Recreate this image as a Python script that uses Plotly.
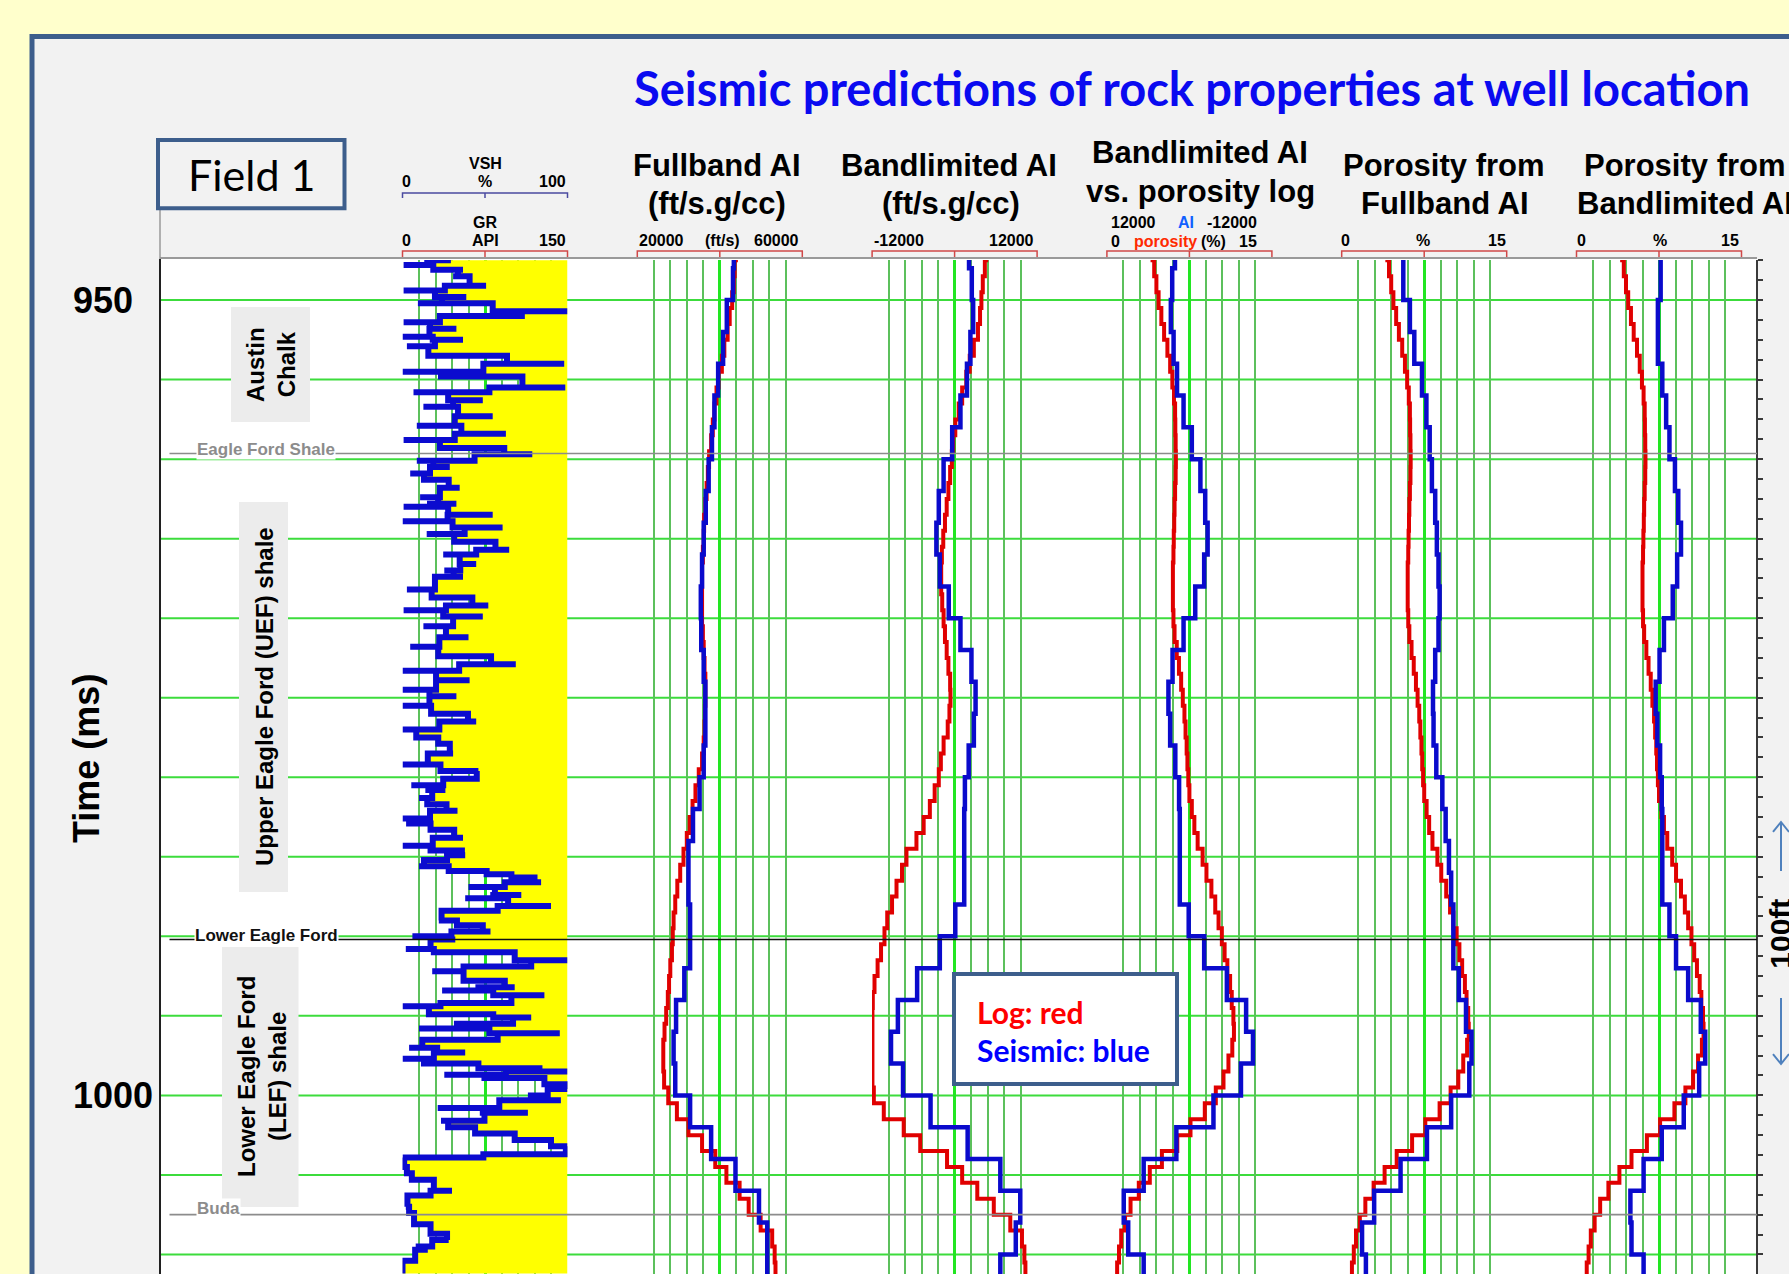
import plotly.graph_objects as go

W, H = 1789, 1274

# ---------------- data ----------------
# well-log samples every 1 ms (two-way time)
log_time_ms = list(range(947, 1013))

fullband_ai_log = [
    43900, 43600, 43400, 43000, 42400, 41900, 41100, 40500, 39700, 39200,
    38700, 38300, 37900, 37400, 37100, 36800, 36500, 36200, 36100, 35900,
    35700, 35700, 35700, 35700, 35900, 36100, 36300, 36500, 36500, 36400,
    36300, 36100, 35700, 34900, 34100, 33400, 32700, 32000, 31200, 30400,
    29700, 29200, 28800, 28600, 28400, 28000, 27700, 27400, 27000, 26600,
    26300, 26300, 26500, 27500, 29600, 32400, 35700, 38900, 41600, 44800,
    47000, 49900, 52700, 53300, 53500, 53800]

bandlimited_ai_log = [
    4600, 4400, 4100, 3900, 3700, 3400, 2800, 2200, 1700, 1100,
    600, 100, -200, -400, -650, -900, -1150, -1400, -1650, -1850,
    -1950, -1950, -1800, -1600, -1400, -1150, -900, -650, -600, -750,
    -1000, -1600, -2000, -2300, -2900, -3600, -4500, -5550, -7000, -7650,
    -8450, -9100, -9800, -10200, -10700, -11200, -11650, -11900, -11950, -11950,
    -11950, -11950, -11950, -11750, -10300, -7400, -5000, -1100, 1100, 3300,
    5700, 8100, 9800, 10150, 10300, 10450]

porosity_log = [
    4.15, 4.3, 4.5, 4.7, 4.95, 5.2, 5.5, 5.75, 5.95, 6.1,
    6.2, 6.22, 6.25, 6.27, 6.25, 6.2, 6.15, 6.12, 6.08, 6.05,
    6.0, 6.0, 6.0, 6.05, 6.15, 6.35, 6.55, 6.75, 6.9, 7.05,
    7.15, 7.25, 7.32, 7.4, 7.5, 7.72, 7.95, 8.25, 8.7, 9.05,
    9.5, 9.85, 10.15, 10.45, 10.7, 10.95, 11.2, 11.35, 11.5, 11.55,
    11.4, 11.05, 10.6, 9.9, 8.9, 7.6, 6.4, 5.0, 3.9, 2.9,
    2.15, 1.65, 1.3, 1.1, 0.93, 0.85]

# seismic predictions, 2 ms blocks (block top times) and base of last block
seis_block_top_ms = list(range(946, 1011, 2))
seis_base_ms = 1012

fullband_ai_seismic = [
    43400, 43200, 41700, 40800, 39600, 38700, 38100, 37300, 36600, 36100,
    35700, 35400, 35500, 36100, 36500, 36500, 36100, 35100, 33500, 32400,
    32400, 32800, 32800, 31400, 29400, 28800, 29200, 32800, 37900, 43800,
    49500, 51500, 51500]

bandlimited_ai_seismic = [
    2100, 2500, 2700, 2300, 1800, 850, -350, -1600, -2300, -2650,
    -2150, -850, 850, 2450, 3050, 2800, 2050, 1500, 1400, 1400,
    1400, 100, -2150, -5450, -8250, -9250, -7500, -3500, 1900, 6650,
    9550, 8900, 6650]

porosity_fullband_seismic = [
    5.6, 5.6, 6.2, 6.6, 7.3, 7.7, 8.0, 8.2, 8.5, 8.65,
    8.8, 8.9, 8.8, 8.5, 8.3, 8.35, 8.6, 9.15, 9.45, 9.75,
    9.95, 10.15, 10.15, 10.65, 11.3, 11.8, 11.6, 9.95, 7.75, 5.35,
    2.95, 1.85, 2.2]

porosity_bandlimited_seismic = [
    7.65, 7.65, 7.4, 7.4, 7.8, 8.15, 8.45, 8.95, 9.25, 9.5,
    9.15, 8.75, 7.95, 7.55, 7.2, 7.35, 7.6, 7.75, 7.8, 7.8,
    7.8, 8.45, 9.05, 10.15, 11.3, 11.7, 11.15, 9.75, 7.75, 6.1,
    4.9, 5.0, 6.1]

# gamma ray log (API)
gr_time_ms = [
    947.5, 947.8, 948.1, 948.5, 949.1, 949.4, 949.8, 950.2, 950.7, 951.0,
    951.4, 951.8, 952.3, 952.5, 952.9, 953.5, 954.0, 954.5, 954.8, 955.5,
    955.8, 956.3, 956.7, 957.3, 957.9, 958.4, 958.8, 959.3, 959.7, 960.1,
    960.5, 960.9, 961.3, 961.8, 962.4, 962.8, 963.0, 963.5, 963.9, 964.3,
    964.7, 965.2, 965.7, 966.0, 966.6, 967.0, 967.4, 968.2, 968.7, 969.2,
    969.5, 969.9, 970.5, 971.2, 971.8, 972.4, 972.9, 973.3, 973.9, 974.5,
    974.9, 975.5, 976.0, 976.5, 977.0, 977.5,
    977.9, 978.5, 979.2, 979.6, 980.1, 980.5, 980.8, 981.3, 981.7, 982.1,
    982.6, 982.9, 983.3, 983.8, 984.3, 984.6, 984.9, 985.2, 985.6, 985.9,
    986.1, 986.3, 986.6, 986.9, 987.4, 987.6, 988.1, 988.4, 989.0, 989.3,
    989.7, 990.0, 990.2, 990.8, 991.0, 991.5, 991.9, 992.2, 992.8, 993.2,
    993.4, 993.7, 994.2, 994.4, 994.9, 995.1, 995.5, 995.8, 996.1, 996.5,
    997.0, 997.3, 997.7, 998.0, 998.3, 998.5, 998.7, 998.9, 999.3, 999.6,
    1000.0, 1000.3, 1000.8, 1001.1, 1001.6, 1002.0, 1002.4, 1002.8, 1003.2, 1003.7,
    1003.9, 1004.5, 1004.9, 1005.3, 1006.0, 1006.3, 1007.0, 1007.4, 1008.1, 1008.7,
    1009.1, 1009.5, 1009.7, 1010.4, 1011.2]
gr_api = [
    44, 1, 55, 46, 76, 1, 58, 14, 150, 67,
    1, 49, 0, 55, 4, 43, 147, 0, 70, 148,
    10, 73, 19, 82, 13, 94, 1, 67, 118, 13,
    43, 7, 32, 52, 16, 49, 1, 82, 0, 91,
    22, 72, 97, 37, 67, 38, 55, 4, 49, 78,
    1, 73, 19, 60, 7, 58, 103, 0, 61, 0,
    49, 0, 52, 67, 0, 25,
    40, 46, 0, 69, 66, 8, 39, 15, 30, 50,
    0, 12, 39, 55, 0, 51, 57, 24, 15, 69,
    84, 114, 126, 60, 108, 57, 135, 38, 33, 66,
    80, 9, 48, 3, 54, 150, 84, 27, 84, 102,
    36, 129, 69, 0, 48, 117, 84, 15, 143, 30,
    6, 57, 0, 39, 99, 150, 38, 111, 147, 150,
    114, 144, 32, 114, 35, 48, 84, 120, 150, 147,
    0, 3, 5, 12, 45, 6, 3, 9, 12, 39,
    42, 12, 23, 0, 0]

# formation tops: name, time (ms), colour
formation_tops = [("Eagle Ford Shale", 959.65, "#8C8C8C"),
                  ("Lower Eagle Ford", 990.2, "#111111"),
                  ("Buda", 1007.5, "#8C8C8C")]
time_labels = [950, 1000]

# ---------------- layout constants ----------------
ARIAL = "Liberation Sans, Arial, sans-serif"
CAL = "Lato, Calibri, sans-serif"
RED, BLUE = "#E00000", "#0A0ACC"
GREEN_MAJOR, GREEN_MINOR, GREEN_H = "#22E622", "#5CC05C", "#3CDC3C"
FRAME = "#3D5E8C"

TRACK_LEFT = [402.5, 637.3, 872.1, 1106.9, 1341.7, 1576.5]
TRACK_W = 165.0
LOG_X0, LOG_X1, LOG_TOP = 160, 1757, 260
T_TOP, T_BOT = 947.48, 1011.23


def fx(p):
    return p / W


def fy(p):
    return 1 - p / H


track_scales = [
    dict(range=[0, 150], major=75, minor=15, tick0=0),
    dict(range=[20000, 60000], major=20000, minor=4000, tick0=20000),
    dict(range=[-12000, 12000], major=12000, minor=2400, tick0=-12000),
    dict(range=[0, 15], major=7.5, minor=1.5, tick0=0),
    dict(range=[0, 15], major=7.5, minor=1.5, tick0=0),
    dict(range=[0, 15], major=7.5, minor=1.5, tick0=0),
]

fig = go.Figure()


def seis_xy(vals):
    return vals + [vals[-1]], seis_block_top_ms + [seis_base_ms]


def spiky_xy(times, vals):
    """GR drawn as a blocky log: each sample is a thin horizontal excursion at
    its own time; between samples the trace rests halfway between them."""
    xs, ys = [], []
    n = len(vals)
    for i in range(n):
        rest = (vals[i] + vals[i + 1]) / 2 if i < n - 1 else vals[i]
        xs += [vals[i], rest]
        ys += [times[i], times[i]]
        if i < n - 1:
            xs.append(rest)
            ys.append(times[i + 1])
    return xs, ys


def add_curve(x, y, axis, color, width, shape, **kw):
    fig.add_trace(go.Scatter(x=x, y=y, xaxis=axis, yaxis="y", mode="lines",
                             line=dict(color=color, width=width, shape=shape),
                             hoverinfo="skip", showlegend=False, **kw))


# GR with yellow fill towards the right edge of the track
add_curve([150, 150], [gr_time_ms[0], gr_time_ms[-1]], "x", "rgba(0,0,0,0)", 0, "linear")
add_curve(*spiky_xy(gr_time_ms, gr_api), "x", "#0B0BCF", 6, "linear",
          fill="tonextx", fillcolor="#FFFF00")

# AI and porosity tracks: log in red, seismic in blue
add_curve(fullband_ai_log, log_time_ms, "x2", RED, 4, "vhv")
add_curve(*seis_xy(fullband_ai_seismic), "x2", BLUE, 4.5, "vh")
add_curve(bandlimited_ai_log, log_time_ms, "x3", RED, 4, "vhv")
add_curve(*seis_xy(bandlimited_ai_seismic), "x3", BLUE, 4.5, "vh")
add_curve(porosity_log, log_time_ms, "x4", RED, 4, "vhv")
add_curve(*seis_xy(bandlimited_ai_seismic), "x7", BLUE, 4.5, "vh")
add_curve(porosity_log, log_time_ms, "x5", RED, 4, "vhv")
add_curve(*seis_xy(porosity_fullband_seismic), "x5", BLUE, 4.5, "vh")
add_curve(porosity_log, log_time_ms, "x6", RED, 4, "vhv")
add_curve(*seis_xy(porosity_bandlimited_seismic), "x6", BLUE, 4.5, "vh")

layout_axes = {}
for i, (left, sc) in enumerate(zip(TRACK_LEFT, track_scales)):
    name = "xaxis" if i == 0 else f"xaxis{i + 1}"
    layout_axes[name] = dict(
        domain=[fx(left), fx(left + TRACK_W)], range=sc["range"], anchor="y",
        showticklabels=False, ticks="", showline=False, zeroline=False,
        showgrid=True, gridcolor=GREEN_MAJOR, gridwidth=2.5,
        tickmode="linear", tick0=sc["tick0"], dtick=sc["major"], fixedrange=True,
        minor=dict(tickmode="linear", tick0=sc["tick0"], dtick=sc["minor"],
                   showgrid=True, gridcolor=GREEN_MINOR, gridwidth=1.5, ticks=""))
layout_axes["xaxis7"] = dict(overlaying="x4", range=[12000, -12000], anchor="y",
                             visible=False, fixedrange=True)

fig.update_layout(
    width=W, height=H, margin=dict(l=0, r=0, t=0, b=0),
    paper_bgcolor="#FFFFCC", plot_bgcolor="rgba(0,0,0,0)", showlegend=False,
    yaxis=dict(domain=[0, fy(LOG_TOP)], range=[T_BOT, T_TOP], anchor="free",
               position=fx(LOG_X1), side="right", showline=True, linecolor="#3A3A3A",
               linewidth=2, ticks="outside", ticklen=5, tickwidth=1.5, tickcolor="#3A3A3A",
               tickmode="linear", tick0=950, dtick=1.25, showticklabels=False,
               showgrid=False, zeroline=False, fixedrange=True),
    **layout_axes)

# ---------------- shapes ----------------
shapes = []


def rect(x0, y0, x1, y1, fill, line_color=None, line_width=0, layer="above"):
    shapes.append(dict(type="rect", xref="paper", yref="paper", x0=fx(x0), x1=fx(x1),
                       y0=fy(y1), y1=fy(y0), fillcolor=fill, layer=layer,
                       line=dict(color=line_color or fill, width=line_width)))


def seg(x0, y0, x1, y1, color, width, layer="above"):
    shapes.append(dict(type="line", xref="paper", yref="paper", x0=fx(x0), x1=fx(x1),
                       y0=fy(y0), y1=fy(y1), layer=layer, line=dict(color=color, width=width)))


def path(pts_list, color, width, layer="above"):
    d = ""
    for pts in pts_list:
        d += "M " + " L ".join(f"{fx(a):.5f},{fy(b):.5f}" for a, b in pts) + " "
    shapes.append(dict(type="path", xref="paper", yref="paper", path=d.strip(),
                       layer=layer, line=dict(color=color, width=width)))


# slide panel and white log area
rect(32, 36.5, W + 20, H + 20, "#F2F2F2", FRAME, 5, layer="below")
rect(LOG_X0, LOG_TOP - 2, LOG_X1, H + 5, "#FFFFFF", layer="below")
# horizontal time grid every 5 ms
for t in range(950, 1012, 5):
    shapes.append(dict(type="line", xref="paper", yref="y", x0=fx(LOG_X0), x1=fx(LOG_X1),
                       y0=t, y1=t, layer="below", line=dict(color=GREEN_H, width=2)))
# formation name panels
rect(231, 307, 310, 422, "#ECECEC", layer="below")
rect(239, 502, 288, 892, "#ECECEC", layer="below")
rect(222, 947, 298.5, 1207, "#ECECEC", layer="below")

# formation top lines
for name, t, col in formation_tops:
    shapes.append(dict(type="line", xref="paper", yref="y", x0=fx(169.5), x1=fx(LOG_X1),
                       y0=t, y1=t, layer="above", line=dict(color=col, width=1.6)))

# frame lines of the log display
seg(LOG_X0, 210, LOG_X0, LOG_TOP, "#9A9A9A", 1.5)
seg(LOG_X0, LOG_TOP - 1, LOG_X0, H, "#202020", 2)
seg(LOG_X0, LOG_TOP - 2, LOG_X1, LOG_TOP - 2, "#9A9A9A", 2)

# scale brackets above each track
for i, left in enumerate(TRACK_LEFT):
    r, c = left + TRACK_W, left + TRACK_W / 2
    path([[(left, 257), (left, 251), (r, 251), (r, 257)], [(c, 251), (c, 257)]],
         "#D04848", 1.5)
l0 = TRACK_LEFT[0]
path([[(l0, 198), (l0, 193), (l0 + TRACK_W, 193), (l0 + TRACK_W, 198)],
      [(l0 + TRACK_W / 2, 193), (l0 + TRACK_W / 2, 198)]], "#4B4BA0", 1.5)

# "Field 1" box and legend box
rect(158, 140, 344.5, 208.3, "#F2F2F2", FRAME, 4)
rect(954, 974, 1177, 1084, "#FFFFFF", FRAME, 4)

# 100 ft thickness arrows
ARW = "#4F81BD"
path([[(1781, 871), (1781, 822)], [(1773, 832), (1781, 822), (1789, 832)]], ARW, 2)
path([[(1781, 998), (1781, 1064)], [(1773, 1054), (1781, 1064), (1789, 1054)]], ARW, 2)

fig.update_layout(shapes=shapes)

# ---------------- text ----------------
ann = []


def label(x, y, text, size, color="#000000", family=ARIAL, bold=True, xanchor="center",
          yanchor="middle", angle=0, yref="paper", **kw):
    ann.append(dict(x=fx(x), y=(fy(y) if yref == "paper" else y), xref="paper", yref=yref,
                    text=(f"<b>{text}</b>" if bold else text), showarrow=False,
                    xanchor=xanchor, yanchor=yanchor, textangle=angle,
                    font=dict(family=family, size=size, color=color), **kw))


label(1192, 88, "Seismic predictions of rock properties at well location", 47, "#0A0AF0", CAL)
label(251, 175, "Field 1", 43, "#000000", CAL, bold=False)

# track titles
label(716.5, 165, "Fullband AI", 31)
label(716.5, 204, "(ft/s.g/cc)", 31)
label(949, 165, "Bandlimited AI", 31)
label(951, 204, "(ft/s.g/cc)", 31)
label(1200, 152, "Bandlimited AI", 31)
label(1200, 192, "vs. porosity log", 31)
label(1444, 165, "Porosity from", 31)
label(1444.6, 204, "Fullband AI", 31)
label(1685, 165, "Porosity from", 31)
label(1685, 204, "Bandlimited AI", 31)

# scale annotations
S = 16
label(485, 163.5, "VSH", S)
label(406, 182, "0", S)
label(485, 182, "%", S)
label(552, 182, "100", S)
label(485, 222, "GR", S)
label(406, 240, "0", S)
label(485, 240, "API", S)
label(552, 240, "150", S)
label(661.6, 240, "20000", S)
label(722, 240, "(ft/s)", S)
label(776.5, 240, "60000", S)
label(899, 240, "-12000", S)
label(1011, 240, "12000", S)
label(1133.5, 223, "12000", S)
label(1186, 223, "AI", S, "#1060FF")
label(1232, 223, "-12000", S)
label(1115, 241.5, "0", S)
label(1165, 241.5, "porosity", S, "#FF2A00")
label(1213, 241.5, "(%)", S)
label(1248, 241.5, "15", S)
label(1345.5, 241, "0", S)
label(1423, 241, "%", S)
label(1497, 241, "15", S)
label(1581.5, 241, "0", S)
label(1659.7, 241, "%", S)
label(1730, 241, "15", S)

# time axis labels
for t in time_labels:
    label(71, t, str(t), 36, xanchor="left", yref="y")
label(86, 759, "Time (ms)", 36, angle=-90)

# formation names
label(270.5, 364.5, "Austin<br>Chalk", 24, angle=-90)
label(264, 697, "Upper Eagle Ford (UEF) shale", 24, angle=-90)
label(262, 1077, "Lower Eagle Ford<br>(LEF) shale", 24, angle=-90)

# formation top labels sitting on their lines
top_label_pos = {"Eagle Ford Shale": (265.5, 4.5), "Lower Eagle Ford": (266, 4.3), "Buda": (218, 6)}
for name, t, col in formation_tops:
    x, dy = top_label_pos[name]
    label(x, t, name, 17, col, yref="y", yshift=dy, bgcolor="#FFFFFF", borderpad=0)

# legend text
label(975, 1012, "Log: red", 30, "#FF0000", CAL, xanchor="left")
label(975, 1050, "Seismic: blue", 30, "#0000FF", CAL, xanchor="left")

# thickness marker
label(1781, 933.7, "100ft", 30, angle=-90)

fig.update_layout(annotations=ann)
fig.write_html("out.html")
